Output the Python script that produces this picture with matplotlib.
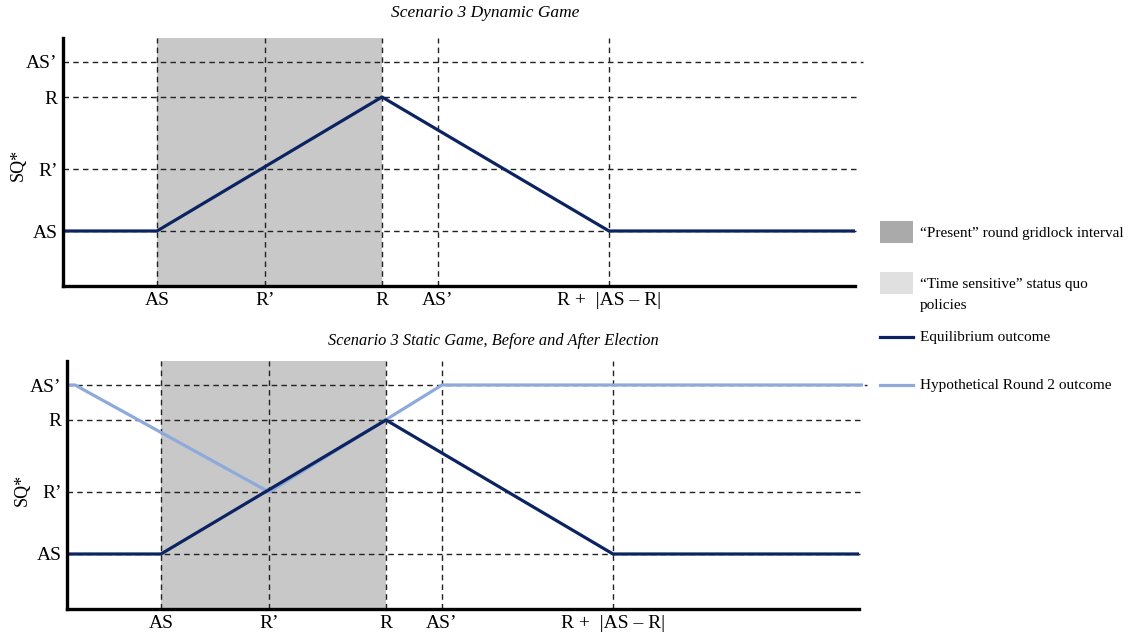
import matplotlib
matplotlib.use("Agg")
import matplotlib.pyplot as plt
from matplotlib.patches import Rectangle
from matplotlib.lines import Line2D

plt.rcParams['font.family'] = ['Liberation Serif', 'DejaVu Serif']

# ---- data (abstract policy-space positions) ----
x_names = ["AS", "R\u2019", "R", "AS\u2019", "R +  |AS \u2013 R|"]
x_vals = [94, 202, 319, 375, 546]          # AS, R', R, AS', R+|AS-R|
y_names = ["AS", "R\u2019", "R", "AS\u2019"]
y_vals = [55, 117, 189, 224]               # AS, R', R, AS'
x_end = 792

# equilibrium outcome (both panels)
eq_x = [0, x_vals[0], x_vals[2], x_vals[4], x_end]
eq_y = [y_vals[0], y_vals[0], y_vals[2], y_vals[0], y_vals[0]]
# hypothetical round 2 outcome (static game)
hyp_x = [0, 8, x_vals[1], x_vals[3], 796]
hyp_y = [y_vals[3], y_vals[3], y_vals[1], y_vals[3], y_vals[3]]

titles = ["Scenario 3 Dynamic Game",
          "Scenario 3 Static Game, Before and After Election"]

legend_labels = ["\u201cPresent\u201d round gridlock interval",
                 "\u201cTime sensitive\u201d status quo\npolicies",
                 "Equilibrium outcome",
                 "Hypothetical Round 2 outcome"]

navy = "#0b2461"
light = "#8eaadb"
shade = "#c8c8c8"

W, H = 1130, 639
fig = plt.figure(figsize=(W / 100, H / 100), dpi=100)


def px_axes(left, top, bottom, width):
    return fig.add_axes([left / W, 1 - bottom / H, width / W, (bottom - top) / H])


def panel(ax, show_hyp):
    ax.set_xlim(0, 807)
    ax.set_ylim(0, 248)
    ax.axvspan(x_vals[0], x_vals[2], color=shade, zorder=0, lw=0)
    for i, yv in enumerate(y_vals):
        ax.plot([0, 800 if i == 3 else 793], [yv, yv], ls=(0, (4, 3)), color="#222222",
                lw=1.0, zorder=1)
    for xv in x_vals:
        ax.plot([xv, xv], [0, 248], ls=(0, (4, 3)), color="#222222", lw=1.0, zorder=1)
    if show_hyp:
        ax.plot(hyp_x, hyp_y, color=light, lw=2.3, zorder=2, solid_capstyle='butt')
    ax.plot(eq_x, eq_y, color=navy, lw=2.3, zorder=3, solid_capstyle='butt')
    for s in ["top", "right"]:
        ax.spines[s].set_visible(False)
    ax.spines["left"].set_linewidth(2.4)
    ax.spines["bottom"].set_linewidth(2.4)
    ax.spines["bottom"].set_bounds(0, x_end)
    ax.spines["left"].set_zorder(5)
    ax.spines["bottom"].set_zorder(5)
    ax.set_xticks(x_vals)
    ax.set_xticklabels(x_names, fontsize=14)
    ax.set_yticks(y_vals)
    ax.set_yticklabels(y_names, fontsize=14)
    ax.tick_params(length=0, pad=4)
    ax.tick_params(axis='x', pad=4.5)
    ax.set_facecolor("none")


ax1 = px_axes(63, 38, 286, 807)
panel(ax1, False)
ax2 = px_axes(67, 361, 609, 807)
panel(ax2, True)

fig.text(485 / W, 1 - 13 / H, titles[0], ha="center", va="center",
         style="italic", fontsize=12.5)
fig.text(493 / W, 1 - 341 / H, titles[1], ha="center", va="center",
         style="italic", fontsize=11.8)
fig.text(18 / W, 1 - 165 / H, "SQ*", rotation=90, ha="center", va="center", fontsize=13)
fig.text(22 / W, 1 - 490 / H, "SQ*", rotation=90, ha="center", va="center", fontsize=13)

# ---- legend ----
lg = fig.add_axes([0, 0, 1, 1])
lg.set_xlim(0, W)
lg.set_ylim(H, 0)
lg.axis("off")
lg.add_patch(Rectangle((880, 221), 33, 22, color="#aaaaaa", lw=0))
lg.add_patch(Rectangle((880, 272), 33, 22, color="#e0e0e0", lw=0))
lg.add_line(Line2D([880, 913], [337, 337], color=navy, lw=2.3))
lg.add_line(Line2D([880, 913], [385, 385], color=light, lw=2.3))
lg.text(920, 234, legend_labels[0], va="center", ha="left", fontsize=11)
lg.text(920, 278, legend_labels[1], va="top", ha="left", fontsize=11, linespacing=1.75)
lg.text(920, 337, legend_labels[2], va="center", ha="left", fontsize=11)
lg.text(920, 386, legend_labels[3], va="center", ha="left", fontsize=11)

fig.savefig("out.png", dpi=100)
